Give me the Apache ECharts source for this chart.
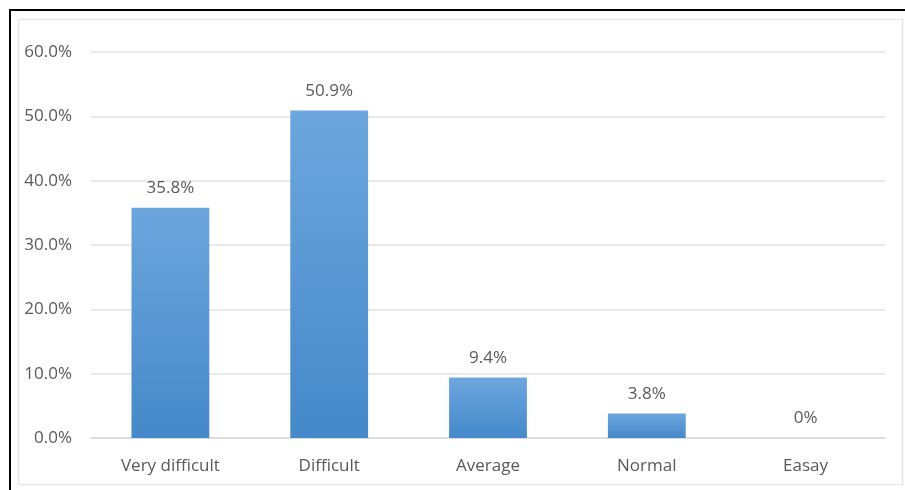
<!DOCTYPE html>
<html><head><meta charset="utf-8">
<script src="https://cdn.jsdelivr.net/npm/echarts@6/dist/echarts.min.js"></script>
<style>html,body{margin:0;padding:0;background:#fff}#c{width:905px;height:490px}</style>
</head><body><div id="c"></div>
<script>
const categories = ['Very difficult', 'Difficult', 'Average', 'Normal', 'Easay'];
const values = [35.8, 50.9, 9.4, 3.8, 0];
const yTicks = { min: 0, max: 60, interval: 10 };

const chart = echarts.init(document.getElementById('c'));
const font = '"Open Sans", "Liberation Sans", Arial, sans-serif';
chart.setOption({
  animation: false,
  graphic: [
    { type: 'rect', shape: { x: 10, y: 10, width: 1000, height: 600 }, style: { fill: 'none', stroke: '#000', lineWidth: 2 }, z: -10 },
    { type: 'rect', shape: { x: 18.5, y: 19.5, width: 884, height: 465 }, style: { fill: 'none', stroke: '#e3e6ec', lineWidth: 1.5 }, z: -10 }
  ],
  grid: { left: 91, right: 20, top: 52, bottom: 52, containLabel: false },
  xAxis: {
    type: 'category', data: categories,
    axisLine: { show: true, lineStyle: { color: '#d9d9d9', width: 1.5 } },
    axisTick: { show: false },
    axisLabel: { color: '#595959', fontFamily: font, fontSize: 17, margin: 20 }
  },
  yAxis: {
    type: 'value', min: yTicks.min, max: yTicks.max, interval: yTicks.interval,
    axisLine: { show: false }, axisTick: { show: false },
    splitLine: { lineStyle: { color: '#e3e3e3', width: 1.5 } },
    axisLabel: { color: '#595959', fontFamily: font, fontSize: 17, margin: 19, formatter: v => v.toFixed(1) + '%' }
  },
  series: [{
    type: 'bar', data: values, barWidth: '49%',
    itemStyle: { color: new echarts.graphic.LinearGradient(0, 0, 0, 1, [
      { offset: 0, color: '#6da6de' }, { offset: 1, color: '#4489c9' }]) },
    label: { show: true, position: 'top', distance: 11, color: '#595959', fontFamily: font, fontSize: 17,
      formatter: p => p.value === 0 ? '0%' : p.value.toFixed(1) + '%' }
  }]
});
</script></body></html>
